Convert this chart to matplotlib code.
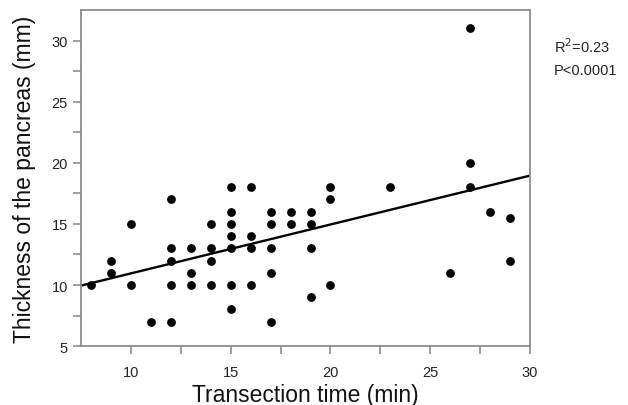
import matplotlib
matplotlib.use("Agg")

import matplotlib.pyplot as plt
import numpy as np

plt.rcParams["font.family"] = ["Liberation Sans", "DejaVu Sans"]

# transection time (min) and pancreas thickness (mm)
time_min = [
    8, 9, 9, 10, 10,
    11, 12, 12, 12, 12, 12,
    13, 13, 13, 14, 14, 14, 14,
    15, 15, 15, 15, 15, 15, 15,
    16, 16, 16, 16,
    17, 17, 17, 17, 17,
    18, 18, 19, 19, 19, 19,
    20, 20, 20, 23, 26, 27, 27, 27, 28, 29, 29,
]
thickness_mm = [
    10, 12, 11, 15, 10,
    7, 17, 13, 12, 10, 7,
    13, 11, 10, 15, 13, 12, 10,
    18, 16, 15, 14, 13, 10, 8,
    18, 14, 13, 10,
    16, 15, 13, 11, 7,
    16, 15, 16, 15, 13, 9,
    18, 17, 10, 18, 11, 31, 20, 18, 16, 15.5, 12,
]

fit_intercept = 6.95
fit_slope = 0.40
fit_x = [7.5, 30]

GREY = "#8c8c8c"

fig = plt.figure(figsize=(6.28, 4.06), dpi=100)
ax = fig.add_axes([0.129, 0.145, 0.715, 0.828])

ax.scatter(time_min, thickness_mm, s=40, color="black", zorder=3, linewidths=0)
fx = np.array(fit_x)
ax.plot(fx, fit_intercept + fit_slope * fx, color="black", linewidth=1.7, zorder=2)

ax.set_xlim(7.5, 30)
ax.set_ylim(5, 32.5)
ax.set_xticks([10, 15, 20, 25, 30])
ax.set_xticks([12.5, 17.5, 22.5, 27.5], minor=True)
ax.set_yticks([5, 10, 15, 20, 25, 30])
ax.set_yticks([7.5, 12.5, 17.5, 22.5, 27.5], minor=True)

for side in ["left", "right", "top", "bottom"]:
    ax.spines[side].set_color(GREY)
    ax.spines[side].set_linewidth(1.3)
ax.tick_params(which="both", direction="out", length=5.5, width=1.2, color=GREY,
               labelsize=10.5, labelcolor="#222222")
ax.tick_params(which="minor", labelbottom=False, labelleft=False)
ax.tick_params(axis="x", which="major", pad=8)
ax.tick_params(axis="y", which="major", pad=4)

ax.set_xlabel("Transection time (min)", fontsize=16.5, color="#111111", labelpad=3)
ax.set_ylabel("Thickness of the pancreas (mm)", fontsize=16.5, color="#111111", labelpad=11)

fig.text(0.882, 0.885, "R$^2$=0.23", fontsize=10.5, color="#222222", va="center")
fig.text(0.882, 0.825, "P<0.0001", fontsize=10.5, color="#222222", va="center")

fig.savefig("out.png", dpi=100)
